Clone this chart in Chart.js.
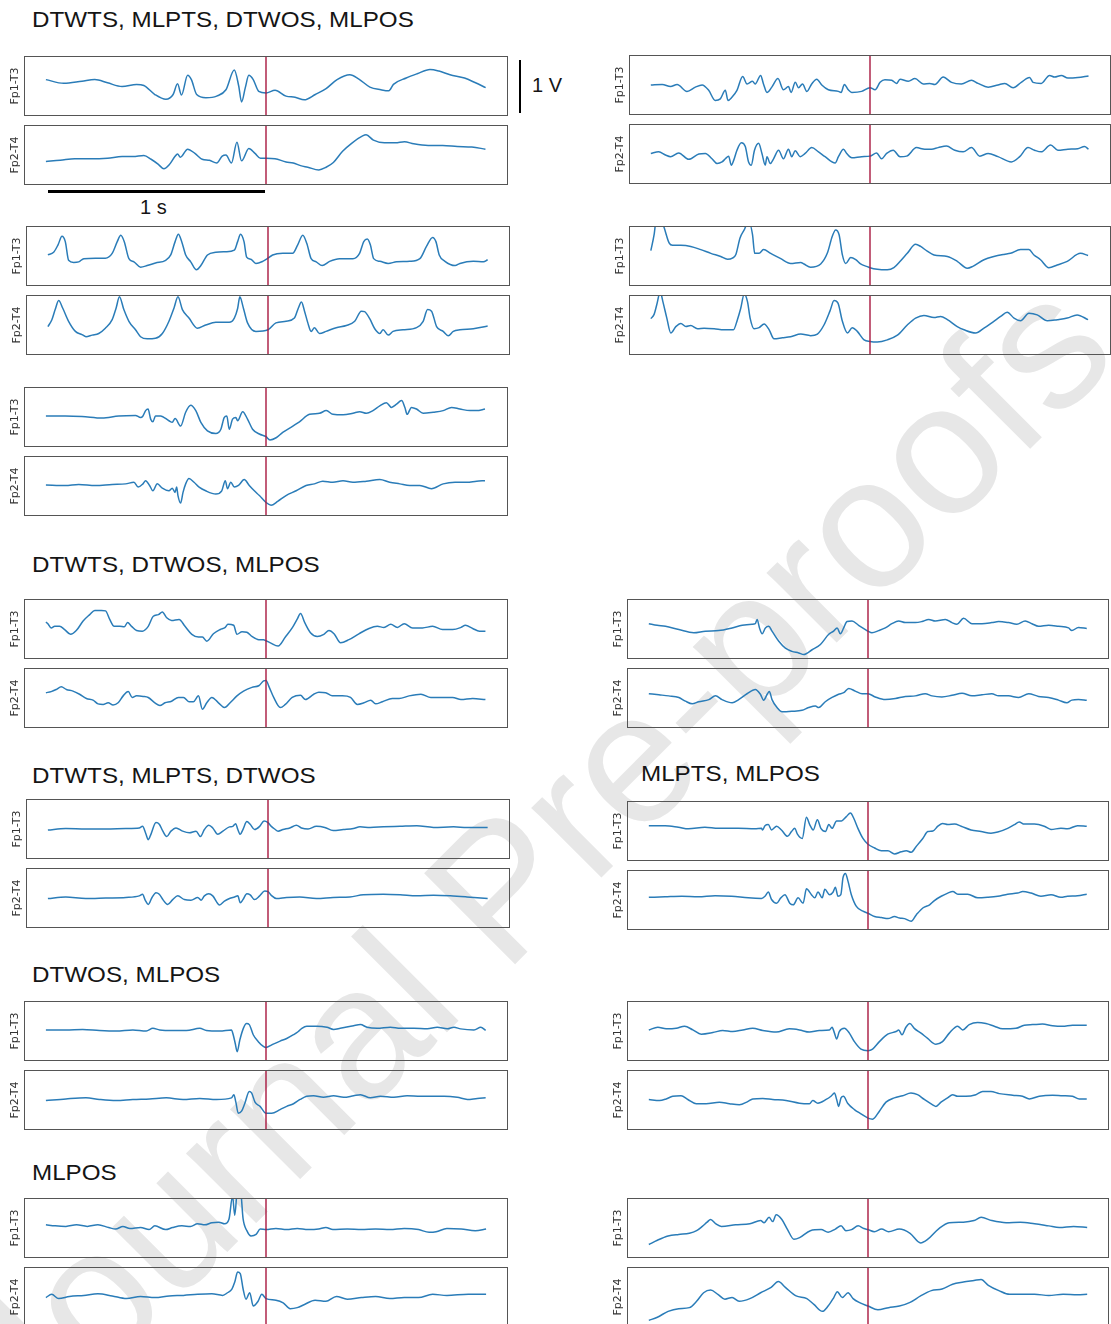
<!DOCTYPE html>
<html>
<head>
<meta charset="utf-8">
<script src="https://cdn.jsdelivr.net/npm/chart.js@4.4.1/dist/chart.umd.min.js"></script>
<style>
  html, body { margin: 0; padding: 0; background: #fff; }
  #fig { position: relative; width: 1111px; height: 1324px; overflow: hidden; background: #fff; }
  #fig canvas { position: absolute; z-index: 1; }
  .wm { position: absolute; z-index: 0; font-family: "Liberation Sans", Arial, sans-serif; font-size: 187px;
        line-height: 1; white-space: nowrap; color: #e7e7e7; transform: translate(-50%, -50%) rotate(-45deg); }
  .title { position: absolute; z-index: 2; font-family: "Liberation Sans", Arial, sans-serif; font-size: 22px;
           line-height: 22px; white-space: nowrap; color: #151515; transform-origin: 0 50%; transform: scaleX(1.1); }
  .bar { position: absolute; z-index: 2; background: #000; }
  .barlabel { position: absolute; z-index: 2; font-family: "Liberation Sans", Arial, sans-serif; font-size: 20px;
              line-height: 20px; white-space: nowrap; color: #151515; }
</style>
</head>
<body>
<div id="fig"></div>
<script>
// ---- Traces: [time (s) relative to event, amplitude (V)] ----

// DTWTS, MLPTS, DTWOS, MLPOS — example 1 (left)
const ex1L_fp1 = [[-1.00,0.12],[-0.919,0.05],[-0.836,0.09],[-0.778,0.12],[-0.720,0.06],[-0.654,-0.01],[-0.588,0.03],[-0.555,0.01],[-0.505,-0.16],[-0.455,-0.25],[-0.422,-0.16],[-0.402,0.04],[-0.384,-0.17],[-0.356,0.20],[-0.339,0.12],[-0.315,-0.16],[-0.273,-0.22],[-0.224,-0.19],[-0.182,-0.07],[-0.144,0.30],[-0.124,0.00],[-0.111,-0.30],[-0.094,-0.03],[-0.078,0.20],[-0.058,0.12],[-0.033,-0.10],[0,-0.13],[0.041,-0.08],[0.091,-0.19],[0.132,-0.21],[0.174,-0.26],[0.224,-0.16],[0.273,-0.05],[0.323,0.12],[0.381,0.21],[0.422,0.13],[0.472,-0.02],[0.522,-0.07],[0.558,-0.09],[0.579,0.03],[0.637,0.15],[0.687,0.23],[0.745,0.31],[0.786,0.28],[0.836,0.21],[0.902,0.15],[0.952,0.06],[0.998,-0.03]];
const ex1L_fp2 = [[-1.00,-0.12],[-0.935,-0.10],[-0.869,-0.07],[-0.803,-0.07],[-0.720,-0.06],[-0.654,-0.03],[-0.604,-0.03],[-0.555,-0.01],[-0.522,-0.08],[-0.488,-0.18],[-0.464,-0.26],[-0.439,-0.18],[-0.414,-0.03],[-0.402,0.02],[-0.389,-0.04],[-0.356,0.11],[-0.323,0.03],[-0.290,-0.08],[-0.257,-0.10],[-0.224,-0.15],[-0.199,-0.02],[-0.182,0.00],[-0.157,-0.15],[-0.132,0.24],[-0.111,-0.11],[-0.078,0.12],[-0.050,0.03],[-0.025,-0.06],[0,-0.06],[0.041,-0.07],[0.091,-0.13],[0.124,-0.15],[0.157,-0.20],[0.190,-0.23],[0.240,-0.28],[0.273,-0.23],[0.306,-0.14],[0.348,0.07],[0.389,0.22],[0.439,0.36],[0.455,0.38],[0.488,0.28],[0.538,0.23],[0.588,0.23],[0.629,0.25],[0.671,0.21],[0.737,0.18],[0.803,0.18],[0.869,0.16],[0.935,0.15],[0.997,0.11]];

// example 1 (right)
const ex1R_fp1 = [[-1.00,0.00],[-0.948,0.01],[-0.910,-0.03],[-0.880,0.01],[-0.835,-0.12],[-0.797,-0.04],[-0.766,0.00],[-0.736,-0.10],[-0.706,-0.29],[-0.683,-0.26],[-0.660,-0.10],[-0.648,-0.29],[-0.630,-0.23],[-0.607,-0.10],[-0.581,0.16],[-0.561,0.02],[-0.536,0.07],[-0.524,0.02],[-0.499,0.18],[-0.486,0.02],[-0.470,-0.14],[-0.448,-0.04],[-0.420,0.12],[-0.395,-0.09],[-0.372,-0.03],[-0.360,-0.14],[-0.341,0.05],[-0.326,-0.05],[-0.308,0.02],[-0.288,-0.12],[-0.266,0.02],[-0.243,0.11],[-0.220,0.00],[-0.190,-0.09],[-0.144,-0.12],[-0.132,-0.14],[-0.117,0.01],[-0.099,-0.09],[-0.083,-0.14],[-0.038,-0.12],[0,-0.05],[0.023,-0.09],[0.046,0.05],[0.068,0.10],[0.099,0.09],[0.121,0.03],[0.137,0.11],[0.175,0.07],[0.205,0.12],[0.243,0.02],[0.273,0.03],[0.296,0.01],[0.334,0.15],[0.372,0.05],[0.417,0.02],[0.463,0.09],[0.493,0.03],[0.539,-0.04],[0.584,0.00],[0.615,0.03],[0.653,-0.05],[0.690,0.05],[0.728,0.14],[0.744,0.05],[0.781,0.03],[0.819,0.18],[0.842,0.15],[0.873,0.18],[0.903,0.13],[0.948,0.14],[0.997,0.17]];
const ex1R_fp2 = [[-1.00,0.01],[-0.964,0.04],[-0.933,-0.02],[-0.910,-0.05],[-0.873,0.02],[-0.827,-0.10],[-0.781,0.00],[-0.751,0.01],[-0.721,-0.09],[-0.698,-0.18],[-0.675,-0.15],[-0.660,-0.09],[-0.645,-0.04],[-0.633,-0.21],[-0.622,-0.12],[-0.607,0.07],[-0.587,0.21],[-0.569,0.14],[-0.554,-0.15],[-0.542,-0.21],[-0.527,0.07],[-0.508,0.20],[-0.493,0.01],[-0.478,-0.21],[-0.470,-0.05],[-0.455,-0.18],[-0.440,-0.09],[-0.417,0.07],[-0.395,-0.09],[-0.372,0.09],[-0.357,-0.05],[-0.341,0.06],[-0.319,-0.05],[-0.296,0.01],[-0.266,0.12],[-0.235,0.04],[-0.205,-0.05],[-0.159,-0.17],[-0.144,-0.05],[-0.121,0.09],[-0.106,0.01],[-0.083,-0.07],[-0.038,-0.05],[0,-0.04],[0.030,0.02],[0.053,-0.09],[0.076,0.01],[0.106,0.07],[0.137,-0.05],[0.167,-0.04],[0.212,0.12],[0.250,0.09],[0.281,0.09],[0.311,0.12],[0.349,0.15],[0.387,0.07],[0.425,0.04],[0.463,0.12],[0.501,-0.04],[0.539,0.01],[0.584,-0.05],[0.645,-0.15],[0.683,-0.05],[0.721,0.12],[0.751,0.07],[0.781,0.04],[0.824,0.17],[0.857,0.07],[0.903,0.09],[0.948,0.10],[0.979,0.14],[0.997,0.09]];

// example 2 (left)
const ex2L_fp1 = [[-1.00,0.02],[-0.974,0.07],[-0.954,0.21],[-0.936,0.37],[-0.921,0.27],[-0.906,-0.08],[-0.883,-0.12],[-0.860,-0.11],[-0.837,-0.05],[-0.784,-0.04],[-0.739,-0.04],[-0.708,0.05],[-0.685,0.27],[-0.669,0.39],[-0.653,0.27],[-0.632,-0.05],[-0.609,-0.11],[-0.579,-0.21],[-0.549,-0.18],[-0.511,-0.13],[-0.465,-0.08],[-0.442,0.02],[-0.422,0.27],[-0.407,0.41],[-0.392,0.27],[-0.374,0.02],[-0.351,-0.11],[-0.325,-0.26],[-0.305,-0.18],[-0.275,0.02],[-0.237,0.07],[-0.191,0.08],[-0.153,0.11],[-0.138,0.27],[-0.125,0.41],[-0.109,0.27],[-0.097,-0.02],[-0.078,-0.06],[-0.055,-0.14],[-0.024,-0.10],[0,-0.04],[0.021,0.02],[0.067,0.05],[0.112,0.05],[0.135,0.21],[0.158,0.39],[0.176,0.24],[0.196,-0.05],[0.219,-0.11],[0.246,-0.18],[0.280,-0.10],[0.325,-0.05],[0.386,-0.05],[0.416,0.05],[0.435,0.27],[0.451,0.32],[0.465,0.21],[0.480,-0.05],[0.508,-0.10],[0.546,-0.14],[0.584,-0.11],[0.644,-0.10],[0.690,-0.05],[0.720,0.18],[0.748,0.35],[0.763,0.27],[0.778,0.02],[0.804,-0.10],[0.850,-0.18],[0.872,-0.14],[0.933,-0.10],[0.979,-0.11],[0.998,-0.07]];
const ex2L_fp2 = [[-1.00,-0.03],[-0.982,0.10],[-0.967,0.29],[-0.951,0.46],[-0.933,0.32],[-0.906,0.07],[-0.875,-0.12],[-0.845,-0.18],[-0.827,-0.22],[-0.799,-0.19],[-0.769,-0.16],[-0.739,-0.06],[-0.708,0.10],[-0.690,0.32],[-0.675,0.53],[-0.655,0.29],[-0.632,0.07],[-0.602,-0.09],[-0.579,-0.22],[-0.549,-0.26],[-0.511,-0.25],[-0.480,-0.16],[-0.450,0.07],[-0.427,0.32],[-0.409,0.53],[-0.389,0.29],[-0.359,0.13],[-0.321,-0.06],[-0.283,0.00],[-0.237,0.05],[-0.176,0.05],[-0.153,0.13],[-0.138,0.31],[-0.128,0.53],[-0.112,0.32],[-0.093,0.04],[-0.055,-0.12],[0,-0.09],[0.036,0.04],[0.082,0.07],[0.120,0.13],[0.138,0.32],[0.152,0.43],[0.166,0.26],[0.181,0.04],[0.196,-0.12],[0.211,-0.05],[0.234,-0.16],[0.264,-0.12],[0.310,-0.05],[0.356,-0.01],[0.394,0.07],[0.424,0.26],[0.439,0.25],[0.462,0.12],[0.485,-0.07],[0.508,-0.16],[0.523,-0.09],[0.546,-0.19],[0.568,-0.12],[0.614,-0.09],[0.675,-0.05],[0.705,0.07],[0.725,0.29],[0.743,0.26],[0.766,-0.03],[0.796,-0.12],[0.819,-0.20],[0.842,-0.12],[0.872,-0.09],[0.933,-0.07],[0.998,-0.02]];

// example 2 (right)
const ex2R_fp1 = [[-1.00,0.10],[-0.985,0.40],[-0.973,0.75],[-0.954,0.70],[-0.939,0.53],[-0.916,0.24],[-0.901,0.20],[-0.863,0.20],[-0.818,0.18],[-0.772,0.12],[-0.726,0.05],[-0.681,-0.01],[-0.650,-0.06],[-0.628,-0.04],[-0.612,0.03],[-0.593,0.34],[-0.574,0.49],[-0.562,0.58],[-0.547,0.58],[-0.536,0.40],[-0.526,0.05],[-0.506,0.05],[-0.486,0.12],[-0.453,0.05],[-0.407,-0.05],[-0.362,-0.14],[-0.316,-0.12],[-0.301,-0.15],[-0.271,-0.21],[-0.225,-0.15],[-0.195,0.05],[-0.172,0.37],[-0.157,0.49],[-0.141,0.40],[-0.126,0.02],[-0.111,-0.14],[-0.088,-0.03],[-0.065,-0.07],[-0.043,-0.15],[-0.012,-0.20],[0,-0.22],[0.033,-0.25],[0.079,-0.26],[0.109,-0.22],[0.140,-0.09],[0.170,0.05],[0.208,0.22],[0.231,0.18],[0.261,0.09],[0.292,0.02],[0.353,-0.01],[0.398,-0.10],[0.444,-0.23],[0.467,-0.20],[0.520,-0.07],[0.565,-0.01],[0.611,0.03],[0.641,0.05],[0.687,0.12],[0.725,0.12],[0.748,0.02],[0.778,-0.07],[0.816,-0.22],[0.854,-0.17],[0.900,-0.10],[0.960,0.05],[0.995,0.01]];
const ex2R_fp2 = [[-1.00,0.12],[-0.985,0.20],[-0.973,0.38],[-0.957,0.62],[-0.945,0.44],[-0.927,0.13],[-0.909,-0.15],[-0.886,-0.03],[-0.863,0.03],[-0.840,-0.03],[-0.818,-0.01],[-0.787,-0.07],[-0.757,-0.06],[-0.711,-0.07],[-0.666,-0.09],[-0.623,-0.09],[-0.605,0.10],[-0.590,0.31],[-0.574,0.58],[-0.559,0.44],[-0.547,0.13],[-0.529,-0.07],[-0.506,-0.05],[-0.483,0.02],[-0.460,-0.09],[-0.438,-0.26],[-0.400,-0.24],[-0.362,-0.22],[-0.316,-0.17],[-0.271,-0.20],[-0.240,-0.17],[-0.210,0.00],[-0.182,0.27],[-0.164,0.46],[-0.146,0.41],[-0.126,0.07],[-0.103,-0.15],[-0.081,-0.05],[-0.058,-0.12],[-0.027,-0.28],[0,-0.31],[0.033,-0.32],[0.079,-0.28],[0.125,-0.19],[0.170,0.00],[0.208,0.13],[0.246,0.18],[0.292,0.14],[0.322,0.16],[0.353,0.10],[0.398,-0.03],[0.429,-0.09],[0.482,-0.15],[0.520,-0.06],[0.565,0.07],[0.596,0.16],[0.626,0.24],[0.657,0.13],[0.687,0.08],[0.725,0.22],[0.763,0.19],[0.809,0.08],[0.854,0.10],[0.900,0.13],[0.945,0.19],[0.995,0.10]];

// example 3 (left)
const ex3L_fp1 = [[-1.00,0.02],[-0.912,0.02],[-0.836,0.01],[-0.745,-0.02],[-0.669,0.02],[-0.593,0.03],[-0.570,-0.01],[-0.559,0.02],[-0.547,0.12],[-0.536,0.15],[-0.524,-0.04],[-0.514,-0.09],[-0.502,0.02],[-0.479,0.02],[-0.441,-0.07],[-0.426,-0.10],[-0.413,-0.03],[-0.388,-0.17],[-0.365,0.09],[-0.342,0.22],[-0.319,0.12],[-0.296,-0.10],[-0.266,-0.26],[-0.228,-0.31],[-0.205,-0.23],[-0.190,-0.01],[-0.178,0.02],[-0.167,-0.23],[-0.152,-0.04],[-0.137,-0.01],[-0.129,-0.07],[-0.106,0.10],[-0.084,-0.04],[-0.061,-0.23],[-0.030,-0.32],[0,-0.37],[0.018,-0.43],[0.046,-0.39],[0.076,-0.29],[0.122,-0.17],[0.152,-0.09],[0.198,0.05],[0.243,0.07],[0.274,0.12],[0.304,0.05],[0.350,0.04],[0.395,0.07],[0.426,0.10],[0.456,0.07],[0.486,0.12],[0.517,0.21],[0.547,0.27],[0.570,0.18],[0.593,0.24],[0.616,0.31],[0.631,0.18],[0.641,0.05],[0.661,0.18],[0.684,0.15],[0.714,0.07],[0.760,0.09],[0.805,0.12],[0.843,0.18],[0.881,0.15],[0.927,0.12],[0.957,0.12],[0.995,0.15]];
const ex3L_fp2 = [[-1.00,0.02],[-0.912,0.01],[-0.851,0.03],[-0.775,0.01],[-0.699,0.03],[-0.638,0.04],[-0.600,0.07],[-0.581,-0.02],[-0.559,0.04],[-0.547,0.10],[-0.529,0.01],[-0.514,-0.09],[-0.494,0.04],[-0.471,-0.04],[-0.441,-0.09],[-0.426,-0.04],[-0.413,-0.12],[-0.406,-0.02],[-0.400,-0.18],[-0.388,-0.32],[-0.377,-0.12],[-0.365,0.04],[-0.350,0.14],[-0.327,0.07],[-0.304,-0.02],[-0.274,-0.09],[-0.228,-0.15],[-0.201,-0.09],[-0.185,0.10],[-0.175,-0.05],[-0.160,0.07],[-0.144,-0.02],[-0.125,0.01],[-0.099,0.12],[-0.076,0.01],[-0.053,-0.09],[-0.030,-0.18],[0,-0.31],[0.023,-0.36],[0.053,-0.29],[0.091,-0.18],[0.137,-0.09],[0.182,0.01],[0.220,0.04],[0.258,0.09],[0.304,0.07],[0.350,0.10],[0.395,0.07],[0.456,0.09],[0.517,0.12],[0.562,0.07],[0.608,0.04],[0.653,0.01],[0.699,0.01],[0.752,-0.05],[0.805,0.04],[0.859,0.07],[0.912,0.07],[0.957,0.09],[0.995,0.10]];

// DTWTS, DTWOS, MLPOS (left)
const ex4L_fp1 = [[-1.00,0.13],[-0.991,0.10],[-0.976,0.02],[-0.960,0.05],[-0.938,0.05],[-0.915,-0.01],[-0.888,-0.10],[-0.862,-0.03],[-0.831,0.15],[-0.801,0.27],[-0.778,0.35],[-0.748,0.35],[-0.729,0.34],[-0.710,0.18],[-0.690,0.05],[-0.664,0.05],[-0.644,0.04],[-0.629,0.12],[-0.611,0.05],[-0.588,-0.03],[-0.562,-0.04],[-0.535,0.05],[-0.512,0.24],[-0.489,0.27],[-0.471,0.32],[-0.451,0.21],[-0.429,0.16],[-0.395,0.18],[-0.368,0.05],[-0.337,-0.10],[-0.307,-0.15],[-0.289,-0.15],[-0.269,-0.23],[-0.239,-0.09],[-0.208,-0.01],[-0.185,0.03],[-0.173,0.09],[-0.147,0.07],[-0.132,-0.10],[-0.109,-0.05],[-0.087,-0.06],[-0.064,-0.14],[-0.033,-0.20],[-0.011,-0.20],[0,-0.22],[0.020,-0.26],[0.055,-0.32],[0.088,-0.15],[0.119,0.02],[0.141,0.18],[0.157,0.29],[0.176,0.12],[0.202,-0.07],[0.233,-0.14],[0.263,-0.10],[0.286,-0.03],[0.309,-0.09],[0.339,-0.26],[0.377,-0.20],[0.422,-0.09],[0.468,0.01],[0.506,0.05],[0.536,0.03],[0.567,0.09],[0.597,0.03],[0.628,0.10],[0.666,0.02],[0.711,0.02],[0.757,0.05],[0.802,-0.01],[0.848,-0.01],[0.886,0.03],[0.906,0.07],[0.939,0.01],[0.970,-0.04],[0.997,-0.04]];
const ex4L_fp2 = [[-1.00,0.10],[-0.976,0.12],[-0.953,0.16],[-0.930,0.21],[-0.907,0.16],[-0.877,0.13],[-0.847,0.07],[-0.816,-0.01],[-0.786,-0.04],[-0.763,-0.11],[-0.740,-0.12],[-0.717,-0.09],[-0.695,-0.13],[-0.672,-0.09],[-0.649,0.04],[-0.626,0.12],[-0.608,0.01],[-0.588,0.04],[-0.558,0.03],[-0.535,0.01],[-0.505,-0.09],[-0.482,-0.14],[-0.459,-0.09],[-0.429,-0.06],[-0.398,0.01],[-0.375,0.01],[-0.350,-0.07],[-0.330,-0.07],[-0.307,0.04],[-0.289,-0.21],[-0.269,-0.09],[-0.246,0.01],[-0.216,-0.09],[-0.188,-0.18],[-0.163,-0.09],[-0.132,0.04],[-0.102,0.13],[-0.064,0.20],[-0.033,0.23],[-0.011,0.32],[0,0.33],[0.015,0.20],[0.035,0.01],[0.065,-0.18],[0.088,-0.12],[0.119,0.01],[0.157,0.05],[0.179,-0.03],[0.217,0.07],[0.240,0.11],[0.271,0.10],[0.301,0.04],[0.347,0.04],[0.384,0.01],[0.415,-0.12],[0.445,-0.09],[0.476,-0.04],[0.498,-0.11],[0.529,-0.07],[0.574,-0.01],[0.605,-0.01],[0.650,0.04],[0.704,0.07],[0.749,0.01],[0.802,0.01],[0.848,0.01],[0.886,-0.03],[0.939,-0.01],[0.997,-0.03]];

// DTWTS, DTWOS, MLPOS (right)
const ex4R_fp1 = [[-1.00,0.10],[-0.962,0.07],[-0.924,0.05],[-0.863,-0.01],[-0.795,-0.07],[-0.742,-0.04],[-0.681,-0.03],[-0.620,0.02],[-0.574,0.07],[-0.529,0.09],[-0.514,0.10],[-0.506,0.18],[-0.495,0.02],[-0.483,-0.09],[-0.468,0.02],[-0.453,0.05],[-0.438,-0.04],[-0.407,-0.23],[-0.377,-0.36],[-0.347,-0.42],[-0.316,-0.45],[-0.293,-0.48],[-0.255,-0.39],[-0.217,-0.29],[-0.179,-0.10],[-0.157,-0.04],[-0.141,0.02],[-0.126,-0.09],[-0.111,0.02],[-0.096,0.14],[-0.073,0.15],[-0.043,0.07],[-0.012,-0.01],[0,-0.04],[0.018,-0.07],[0.049,-0.03],[0.079,0.02],[0.109,0.10],[0.140,0.15],[0.170,0.12],[0.216,0.12],[0.246,0.14],[0.277,0.18],[0.307,0.15],[0.353,0.18],[0.383,0.12],[0.406,0.09],[0.436,0.20],[0.474,0.10],[0.520,0.10],[0.565,0.12],[0.596,0.14],[0.641,0.12],[0.679,0.09],[0.717,0.15],[0.748,0.10],[0.778,0.05],[0.824,0.07],[0.869,0.05],[0.915,0.02],[0.930,-0.03],[0.960,0.03],[0.998,0.01]];
const ex4R_fp2 = [[-1.00,0.08],[-0.954,0.06],[-0.909,0.04],[-0.863,0.01],[-0.833,-0.06],[-0.802,-0.11],[-0.772,-0.07],[-0.726,-0.03],[-0.696,0.04],[-0.666,-0.03],[-0.620,-0.09],[-0.590,-0.03],[-0.552,0.08],[-0.514,0.16],[-0.491,0.07],[-0.476,-0.04],[-0.460,0.07],[-0.450,0.12],[-0.438,-0.03],[-0.415,-0.18],[-0.392,-0.26],[-0.347,-0.25],[-0.301,-0.23],[-0.271,-0.18],[-0.240,-0.15],[-0.225,-0.18],[-0.195,-0.07],[-0.164,0.01],[-0.134,0.07],[-0.111,0.10],[-0.088,0.18],[-0.058,0.13],[-0.027,0.08],[0,0.08],[0.033,0.02],[0.079,-0.03],[0.125,-0.01],[0.170,0.03],[0.216,0.04],[0.261,0.08],[0.292,0.04],[0.337,0.02],[0.383,0.05],[0.429,0.09],[0.474,0.04],[0.520,0.06],[0.565,0.08],[0.596,0.04],[0.641,0.04],[0.687,0.01],[0.733,0.08],[0.778,0.03],[0.824,0.01],[0.869,-0.04],[0.907,-0.09],[0.930,-0.04],[0.960,-0.03],[0.998,-0.04]];

// DTWTS, MLPTS, DTWOS (left)
const ex5L_fp1 = [[-1.00,-0.02],[-0.919,0.01],[-0.828,0.00],[-0.737,0.00],[-0.646,0.01],[-0.585,0.02],[-0.570,0.05],[-0.555,-0.09],[-0.544,-0.20],[-0.532,-0.10],[-0.509,0.12],[-0.494,0.09],[-0.479,-0.03],[-0.460,-0.14],[-0.441,-0.04],[-0.418,0.02],[-0.388,-0.04],[-0.357,-0.07],[-0.327,-0.04],[-0.307,-0.14],[-0.289,-0.01],[-0.269,0.07],[-0.251,0.02],[-0.228,-0.10],[-0.205,-0.04],[-0.175,0.04],[-0.160,0.05],[-0.147,0.10],[-0.137,-0.01],[-0.126,-0.10],[-0.114,-0.01],[-0.096,0.14],[-0.081,0.09],[-0.061,-0.01],[-0.038,0.05],[-0.018,0.15],[0,0.12],[0.015,0.05],[0.030,0.00],[0.046,-0.04],[0.068,-0.01],[0.099,0.02],[0.129,0.07],[0.152,0.02],[0.182,0.00],[0.220,0.05],[0.258,0.03],[0.296,-0.03],[0.342,-0.01],[0.388,0.01],[0.418,0.04],[0.464,0.03],[0.524,0.04],[0.600,0.05],[0.676,0.06],[0.752,0.03],[0.843,0.04],[0.904,0.03],[0.998,0.03]];
const ex5L_fp2 = [[-1.00,-0.01],[-0.919,0.02],[-0.828,-0.01],[-0.737,0.00],[-0.646,0.01],[-0.585,0.04],[-0.570,0.07],[-0.558,-0.04],[-0.544,-0.12],[-0.527,0.01],[-0.509,0.10],[-0.494,0.07],[-0.476,-0.04],[-0.456,-0.12],[-0.433,-0.03],[-0.410,0.04],[-0.380,-0.03],[-0.350,-0.04],[-0.319,0.01],[-0.304,-0.04],[-0.289,0.04],[-0.269,0.08],[-0.251,0.04],[-0.220,-0.13],[-0.198,-0.06],[-0.175,-0.01],[-0.152,0.02],[-0.137,0.04],[-0.126,-0.09],[-0.114,-0.03],[-0.096,0.08],[-0.081,0.06],[-0.061,-0.03],[-0.038,0.04],[-0.015,0.13],[0,0.12],[0.015,0.05],[0.038,-0.01],[0.084,0.01],[0.144,0.02],[0.220,-0.01],[0.296,0.01],[0.372,0.02],[0.433,0.06],[0.524,0.07],[0.600,0.06],[0.676,0.04],[0.752,0.05],[0.828,0.04],[0.904,0.02],[0.998,-0.01]];

// MLPTS, MLPOS (right)
const ex5R_fp1 = [[-1.00,0.10],[-0.926,0.10],[-0.865,0.07],[-0.819,0.04],[-0.744,0.07],[-0.683,0.05],[-0.592,0.05],[-0.516,0.04],[-0.486,0.05],[-0.481,0.02],[-0.470,0.10],[-0.455,0.12],[-0.440,0.02],[-0.417,0.09],[-0.395,0.02],[-0.367,-0.10],[-0.349,-0.01],[-0.334,0.05],[-0.322,-0.06],[-0.300,-0.14],[-0.281,0.26],[-0.266,0.12],[-0.250,0.02],[-0.231,0.21],[-0.215,0.05],[-0.194,-0.01],[-0.179,0.12],[-0.164,0.05],[-0.143,0.19],[-0.121,0.19],[-0.099,0.27],[-0.080,0.34],[-0.064,0.23],[-0.046,0.05],[-0.023,-0.14],[0,-0.25],[0.030,-0.32],[0.061,-0.37],[0.091,-0.37],[0.121,-0.43],[0.152,-0.39],[0.175,-0.37],[0.197,-0.40],[0.220,-0.29],[0.250,-0.14],[0.273,-0.01],[0.296,0.00],[0.319,0.09],[0.341,0.14],[0.364,0.12],[0.395,0.13],[0.425,0.09],[0.470,0.02],[0.516,-0.01],[0.561,-0.04],[0.592,-0.02],[0.637,0.05],[0.668,0.12],[0.690,0.17],[0.713,0.13],[0.759,0.13],[0.804,0.09],[0.835,0.03],[0.880,0.05],[0.910,0.04],[0.956,0.10],[0.998,0.09]];
const ex5R_fp2 = [[-1.00,0.05],[-0.926,0.06],[-0.850,0.07],[-0.774,0.06],[-0.698,0.08],[-0.622,0.07],[-0.546,0.04],[-0.486,0.03],[-0.470,0.07],[-0.455,0.15],[-0.440,0.01],[-0.417,-0.06],[-0.398,0.04],[-0.379,0.10],[-0.357,-0.06],[-0.341,-0.09],[-0.319,0.04],[-0.296,-0.06],[-0.281,0.21],[-0.258,0.10],[-0.243,0.04],[-0.228,0.15],[-0.209,0.04],[-0.197,0.20],[-0.175,0.10],[-0.159,0.15],[-0.149,0.24],[-0.137,0.07],[-0.124,0.10],[-0.114,0.42],[-0.103,0.50],[-0.091,0.35],[-0.076,0.10],[-0.053,-0.12],[-0.023,-0.21],[0,-0.25],[0.030,-0.31],[0.061,-0.33],[0.091,-0.35],[0.121,-0.31],[0.144,-0.34],[0.167,-0.35],[0.197,-0.40],[0.220,-0.28],[0.250,-0.15],[0.281,-0.09],[0.303,-0.01],[0.334,0.07],[0.364,0.13],[0.387,0.16],[0.410,0.11],[0.455,0.11],[0.501,0.04],[0.546,0.05],[0.592,0.07],[0.637,0.11],[0.683,0.13],[0.706,0.16],[0.744,0.13],[0.789,0.07],[0.835,0.10],[0.880,0.05],[0.910,0.07],[0.956,0.08],[0.998,0.11]];

// DTWOS, MLPOS (left)
const ex6L_fp1 = [[-1.00,0.02],[-0.909,0.02],[-0.833,0.03],[-0.757,0.01],[-0.681,0.00],[-0.605,0.02],[-0.544,0.00],[-0.514,0.05],[-0.483,0.02],[-0.422,0.01],[-0.362,0.01],[-0.301,0.05],[-0.271,0.01],[-0.210,0.00],[-0.157,0.02],[-0.149,-0.07],[-0.140,-0.23],[-0.131,-0.39],[-0.119,-0.17],[-0.103,0.05],[-0.088,0.14],[-0.076,0.12],[-0.058,-0.07],[-0.035,-0.20],[-0.012,-0.29],[0,-0.31],[0.026,-0.26],[0.064,-0.19],[0.094,-0.14],[0.125,-0.07],[0.147,-0.01],[0.163,0.05],[0.185,0.09],[0.231,0.09],[0.277,0.07],[0.307,0.03],[0.337,0.05],[0.398,0.10],[0.429,0.12],[0.459,0.07],[0.505,0.05],[0.565,0.07],[0.611,0.05],[0.672,0.05],[0.733,0.04],[0.778,0.07],[0.824,0.04],[0.854,0.07],[0.884,0.04],[0.945,0.02],[0.976,0.07],[0.998,0.01]];
const ex6L_fp2 = [[-1.00,-0.01],[-0.909,0.02],[-0.818,0.04],[-0.757,0.01],[-0.681,-0.01],[-0.605,0.01],[-0.529,0.02],[-0.453,0.04],[-0.377,0.01],[-0.301,0.03],[-0.225,0.01],[-0.157,0.04],[-0.146,0.10],[-0.137,-0.04],[-0.126,-0.25],[-0.111,-0.21],[-0.096,-0.06],[-0.076,0.16],[-0.065,0.13],[-0.050,-0.04],[-0.027,-0.12],[0,-0.25],[0.026,-0.25],[0.064,-0.18],[0.094,-0.12],[0.125,-0.07],[0.155,0.01],[0.185,0.07],[0.216,0.08],[0.261,0.05],[0.307,0.08],[0.353,0.05],[0.398,0.08],[0.429,0.10],[0.474,0.04],[0.520,0.07],[0.581,0.05],[0.641,0.08],[0.702,0.07],[0.763,0.07],[0.809,0.07],[0.869,0.05],[0.915,0.01],[0.960,0.03],[0.998,0.04]];

// DTWOS, MLPOS (right)
const ex6R_fp1 = [[-1.00,0.02],[-0.959,0.07],[-0.921,0.04],[-0.875,0.05],[-0.837,0.09],[-0.799,0.02],[-0.761,-0.06],[-0.708,-0.03],[-0.663,0.01],[-0.617,-0.01],[-0.571,0.02],[-0.526,0.05],[-0.480,0.01],[-0.419,-0.02],[-0.359,0.04],[-0.313,0.02],[-0.267,-0.02],[-0.222,0.01],[-0.176,0.02],[-0.164,0.07],[-0.153,-0.04],[-0.143,-0.15],[-0.131,-0.01],[-0.108,0.05],[-0.085,-0.04],[-0.062,-0.20],[-0.032,-0.34],[0,-0.37],[0.021,-0.34],[0.052,-0.20],[0.090,-0.06],[0.128,-0.01],[0.140,0.02],[0.155,-0.07],[0.173,0.07],[0.191,0.14],[0.211,0.05],[0.242,-0.04],[0.272,-0.14],[0.310,-0.25],[0.340,-0.20],[0.371,-0.04],[0.409,0.09],[0.432,0.02],[0.462,0.12],[0.500,0.16],[0.538,0.14],[0.576,0.09],[0.614,0.04],[0.675,0.05],[0.713,0.11],[0.751,0.12],[0.796,0.13],[0.842,0.10],[0.888,0.09],[0.933,0.11],[0.998,0.11]];
const ex6R_fp2 = [[-1.00,0.01],[-0.951,-0.01],[-0.921,0.02],[-0.891,0.07],[-0.853,0.08],[-0.822,0.01],[-0.784,-0.07],[-0.739,-0.07],[-0.678,-0.04],[-0.632,-0.07],[-0.587,-0.09],[-0.549,-0.03],[-0.526,0.02],[-0.480,0.03],[-0.435,0.01],[-0.374,-0.01],[-0.313,-0.06],[-0.267,-0.07],[-0.252,-0.01],[-0.229,-0.06],[-0.191,0.01],[-0.169,0.07],[-0.153,0.13],[-0.143,0.01],[-0.134,-0.12],[-0.123,0.04],[-0.112,0.07],[-0.093,-0.06],[-0.062,-0.18],[-0.032,-0.26],[0,-0.34],[0.021,-0.36],[0.052,-0.21],[0.082,-0.04],[0.120,0.04],[0.158,0.08],[0.196,0.13],[0.226,0.10],[0.257,0.01],[0.295,-0.09],[0.310,-0.12],[0.333,-0.04],[0.363,0.04],[0.386,0.10],[0.409,0.07],[0.447,0.07],[0.492,0.10],[0.523,0.16],[0.561,0.16],[0.599,0.12],[0.660,0.09],[0.705,0.07],[0.736,0.02],[0.781,0.07],[0.842,0.09],[0.888,0.08],[0.933,0.07],[0.964,0.02],[0.998,0.02]];

// MLPOS (left)
const ex7L_fp1 = [[-1.00,0.06],[-0.958,0.04],[-0.909,0.03],[-0.861,0.06],[-0.812,0.03],[-0.764,0.06],[-0.715,0.01],[-0.683,-0.02],[-0.650,0.03],[-0.618,-0.01],[-0.570,0.01],[-0.531,-0.03],[-0.505,0.04],[-0.456,-0.03],[-0.424,0.01],[-0.382,0.04],[-0.343,0.03],[-0.311,0.08],[-0.278,0.06],[-0.246,0.10],[-0.214,0.11],[-0.188,0.08],[-0.168,0.17],[-0.152,0.60],[-0.142,0.24],[-0.129,0.75],[-0.117,0.75],[-0.104,0.17],[-0.087,-0.05],[-0.068,-0.15],[-0.045,-0.12],[-0.026,-0.02],[0,-0.03],[0.045,-0.01],[0.094,-0.03],[0.142,-0.01],[0.191,-0.03],[0.239,-0.02],[0.272,0.01],[0.304,-0.03],[0.369,-0.02],[0.434,-0.03],[0.498,-0.02],[0.563,-0.03],[0.628,-0.01],[0.693,-0.03],[0.741,-0.08],[0.773,-0.07],[0.822,-0.01],[0.887,-0.02],[0.951,-0.05],[1.00,-0.02]];
const ex7L_fp2 = [[-1.00,-0.01],[-0.974,0.05],[-0.942,-0.03],[-0.893,0.01],[-0.828,0.03],[-0.764,0.06],[-0.699,0.02],[-0.634,-0.03],[-0.570,0.01],[-0.505,-0.01],[-0.440,0.02],[-0.375,0.03],[-0.311,0.05],[-0.246,0.06],[-0.197,0.03],[-0.175,0.08],[-0.155,0.15],[-0.142,0.28],[-0.129,0.47],[-0.117,0.44],[-0.104,0.15],[-0.091,-0.04],[-0.074,0.08],[-0.058,-0.17],[-0.036,-0.08],[-0.019,0.05],[0,-0.03],[0.045,-0.06],[0.078,-0.11],[0.110,-0.22],[0.142,-0.20],[0.175,-0.14],[0.223,-0.06],[0.272,-0.08],[0.320,0.01],[0.369,-0.04],[0.434,-0.01],[0.498,0.01],[0.563,-0.03],[0.628,-0.01],[0.693,-0.01],[0.757,0.05],[0.822,0.03],[0.919,0.05],[1.00,0.05]];

// MLPOS (right)
const ex7R_fp1 = [[-1.00,-0.31],[-0.961,-0.23],[-0.912,-0.15],[-0.864,-0.12],[-0.815,-0.10],[-0.782,-0.05],[-0.756,0.03],[-0.734,0.11],[-0.718,0.16],[-0.695,0.08],[-0.669,0.03],[-0.604,0.06],[-0.539,0.08],[-0.490,0.14],[-0.474,0.10],[-0.451,0.20],[-0.435,0.12],[-0.419,0.25],[-0.393,0.16],[-0.367,-0.03],[-0.338,-0.21],[-0.312,-0.18],[-0.263,-0.05],[-0.214,-0.03],[-0.182,-0.08],[-0.149,-0.02],[-0.123,0.04],[-0.101,-0.05],[-0.075,-0.03],[-0.045,0.04],[-0.019,-0.01],[0,-0.03],[0.029,-0.07],[0.062,-0.02],[0.094,-0.07],[0.143,-0.02],[0.192,-0.10],[0.240,-0.28],[0.273,-0.21],[0.321,-0.02],[0.370,0.10],[0.435,0.11],[0.484,0.14],[0.516,0.20],[0.565,0.14],[0.630,0.10],[0.695,0.11],[0.760,0.08],[0.825,0.04],[0.873,0.01],[0.938,0.03],[1.00,0.01]];
const ex7R_fp2 = [[-1.00,-0.44],[-0.961,-0.38],[-0.912,-0.27],[-0.864,-0.22],[-0.815,-0.20],[-0.782,-0.08],[-0.750,0.08],[-0.718,0.13],[-0.685,0.05],[-0.653,-0.04],[-0.620,-0.01],[-0.588,-0.08],[-0.539,-0.03],[-0.490,0.08],[-0.442,0.18],[-0.409,0.29],[-0.377,0.18],[-0.328,0.02],[-0.279,-0.03],[-0.247,-0.14],[-0.208,-0.27],[-0.182,-0.17],[-0.156,-0.01],[-0.140,0.10],[-0.117,-0.01],[-0.091,0.08],[-0.068,-0.03],[-0.036,-0.11],[0,-0.17],[0.045,-0.24],[0.094,-0.20],[0.143,-0.17],[0.192,-0.10],[0.240,0.02],[0.289,0.12],[0.338,0.15],[0.386,0.24],[0.435,0.28],[0.484,0.31],[0.516,0.33],[0.549,0.22],[0.597,0.12],[0.646,0.05],[0.695,0.05],[0.760,0.05],[0.825,0.03],[0.890,0.05],[0.955,0.04],[1.00,0.05]];

// ---- Shared axis settings ----
const EVENT_T = 0;        // event onset (s)
const T_HALF = 1.095;     // half of the time window shown in each panel (s)
const V_HALF = 0.545;     // half of the amplitude range shown in each panel (V)
const CH1 = 'Fp1-T3', CH2 = 'Fp2-T4';

const groupTitles = [
  { text: 'DTWTS, MLPTS, DTWOS, MLPOS', x: 32, y: 20 },
  { text: 'DTWTS, DTWOS, MLPOS',        x: 32, y: 565 },
  { text: 'DTWTS, MLPTS, DTWOS',        x: 32, y: 776 },
  { text: 'MLPTS, MLPOS',               x: 641, y: 774 },
  { text: 'DTWOS, MLPOS',               x: 32, y: 975 },
  { text: 'MLPOS',                      x: 32, y: 1173 }
];

// panel frames (box left/top in page pixels) and the trace shown in each
const LW = 482, RW = 480, BOX_H = 58;
const panels = [
  { x: 25,  y: 57,   w: LW, trace: ex1L_fp1, ch: CH1 }, { x: 25,  y: 126,  w: LW, trace: ex1L_fp2, ch: CH2 },
  { x: 630, y: 56,   w: RW, trace: ex1R_fp1, ch: CH1 }, { x: 630, y: 125,  w: RW, trace: ex1R_fp2, ch: CH2 },
  { x: 27,  y: 227,  w: LW, trace: ex2L_fp1, ch: CH1 }, { x: 27,  y: 296,  w: LW, trace: ex2L_fp2, ch: CH2 },
  { x: 630, y: 227,  w: RW, trace: ex2R_fp1, ch: CH1 }, { x: 630, y: 296,  w: RW, trace: ex2R_fp2, ch: CH2 },
  { x: 25,  y: 388,  w: LW, trace: ex3L_fp1, ch: CH1 }, { x: 25,  y: 457,  w: LW, trace: ex3L_fp2, ch: CH2 },
  { x: 25,  y: 600,  w: LW, trace: ex4L_fp1, ch: CH1 }, { x: 25,  y: 669,  w: LW, trace: ex4L_fp2, ch: CH2 },
  { x: 628, y: 600,  w: RW, trace: ex4R_fp1, ch: CH1 }, { x: 628, y: 669,  w: RW, trace: ex4R_fp2, ch: CH2 },
  { x: 27,  y: 800,  w: LW, trace: ex5L_fp1, ch: CH1 }, { x: 27,  y: 869,  w: LW, trace: ex5L_fp2, ch: CH2 },
  { x: 628, y: 802,  w: RW, trace: ex5R_fp1, ch: CH1 }, { x: 628, y: 871,  w: RW, trace: ex5R_fp2, ch: CH2 },
  { x: 25,  y: 1002, w: LW, trace: ex6L_fp1, ch: CH1 }, { x: 25,  y: 1071, w: LW, trace: ex6L_fp2, ch: CH2 },
  { x: 628, y: 1002, w: RW, trace: ex6R_fp1, ch: CH1 }, { x: 628, y: 1071, w: RW, trace: ex6R_fp2, ch: CH2 },
  { x: 25,  y: 1199, w: LW, trace: ex7L_fp1, ch: CH1 }, { x: 25,  y: 1268, w: LW, trace: ex7L_fp2, ch: CH2 },
  { x: 628, y: 1199, w: RW, trace: ex7R_fp1, ch: CH1 }, { x: 628, y: 1268, w: RW, trace: ex7R_fp2, ch: CH2 }
];

const TRACE_COLOR = '#2a7cb8';
const EVENT_COLOR = '#a8173f';
const FRAME_COLOR = '#555555';
const AXIS_W = 18;   // room for the rotated channel name

const fig = document.getElementById('fig');

// light diagonal watermark behind the panels
const wm = document.createElement('div');
wm.className = 'wm';
wm.textContent = 'Journal Pre-proofs';
wm.style.left = '532px';
wm.style.top = '856px';
fig.appendChild(wm);

for (const t of groupTitles) {
  const d = document.createElement('div');
  d.className = 'title';
  d.textContent = t.text;
  d.style.left = t.x + 'px';
  d.style.top = (t.y - 11) + 'px';
  fig.appendChild(d);
}

// scale bars (1 V vertical, 1 s horizontal)
function addBar(l, t, w, h) {
  const b = document.createElement('div');
  b.className = 'bar';
  Object.assign(b.style, { left: l + 'px', top: t + 'px', width: w + 'px', height: h + 'px' });
  fig.appendChild(b);
}
function addBarLabel(text, l, cy) {
  const s = document.createElement('div');
  s.className = 'barlabel';
  s.textContent = text;
  s.style.left = l + 'px';
  s.style.top = (cy - 10) + 'px';
  fig.appendChild(s);
}
addBar(519, 60, 2, 53);
addBarLabel('1 V', 532, 85);
addBar(48, 190, 217, 3);
addBarLabel('1 s', 140, 207);

// plot frame around each panel
const framePlugin = {
  id: 'frame',
  afterDraw(chart) {
    const { ctx, chartArea: a } = chart;
    ctx.save();
    ctx.strokeStyle = FRAME_COLOR;
    ctx.lineWidth = 1;
    ctx.strokeRect(Math.round(a.left) - 0.5, Math.round(a.top) - 0.5,
                   Math.round(a.right - a.left) + 1, Math.round(a.bottom - a.top) + 1);
    ctx.restore();
  }
};

for (const p of panels) {
  const c = document.createElement('canvas');
  c.width = p.w + AXIS_W + 1;
  c.height = BOX_H + 2;
  c.style.left = (p.x - AXIS_W) + 'px';
  c.style.top = (p.y - 1) + 'px';
  fig.appendChild(c);

  new Chart(c, {
    type: 'line',
    data: {
      datasets: [
        {
          data: [{ x: EVENT_T, y: -2 * V_HALF }, { x: EVENT_T, y: 2 * V_HALF }],
          borderColor: EVENT_COLOR, borderWidth: 1.4, pointRadius: 0, clip: 0
        },
        {
          data: p.trace.map(([t, v]) => ({ x: t, y: v })),
          borderColor: TRACE_COLOR, borderWidth: 1.5, pointRadius: 0,
          cubicInterpolationMode: 'monotone', clip: 0
        }
      ]
    },
    options: {
      responsive: false,
      animation: false,
      events: [],
      layout: { padding: { top: 1, bottom: 1, right: 1, left: 0 } },
      plugins: { legend: { display: false }, tooltip: { enabled: false } },
      scales: {
        x: { type: 'linear', min: -T_HALF, max: T_HALF, display: false },
        y: {
          type: 'linear', min: -V_HALF, max: V_HALF,
          ticks: { display: false }, grid: { display: false }, border: { display: false },
          title: { display: true, text: p.ch, color: '#333', padding: { top: 2, bottom: 0 },
                   font: { family: 'DejaVu Sans', size: 11, lineHeight: 1.2 } },
          afterFit(scale) { scale.width = AXIS_W; }
        }
      }
    },
    plugins: [framePlugin]
  });
}
</script>
</body>
</html>
